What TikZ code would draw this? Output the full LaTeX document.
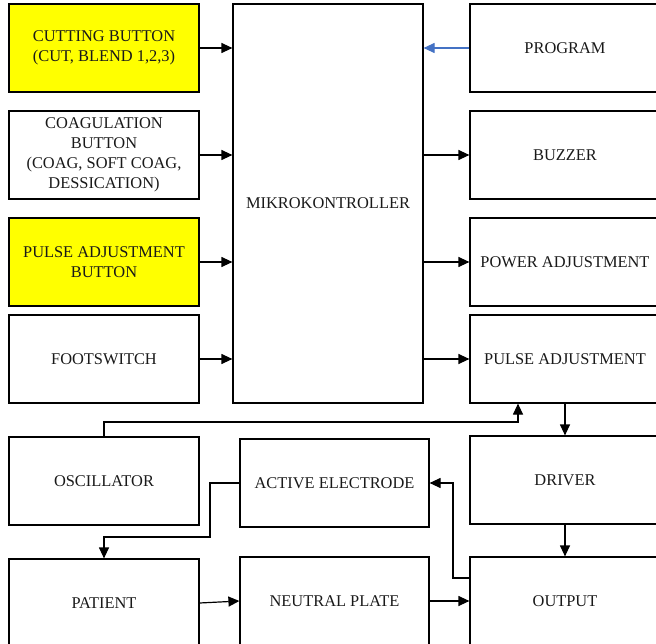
\documentclass[tikz,border=0pt]{standalone}
\usepackage{fontspec}
\setmainfont{Liberation Serif}
\usetikzlibrary{arrows.meta}
\definecolor{ylw}{RGB}{255,255,0}
\definecolor{bluearr}{RGB}{68,114,196}
\begin{document}
\begin{tikzpicture}[x=1pt,y=-1pt,
  box/.style={draw=black, line width=1.2pt, rectangle, inner sep=0pt, align=center,
    font=\fontsize{16.4}{20}\selectfont, text=black!90},
  lbox/.style={box, minimum width=190pt, minimum height=88pt},
  ybox/.style={lbox, fill=ylw},
  arr/.style={draw=black, line width=1.2pt, -{Triangle[length=11pt,width=10pt]}},
  barr/.style={draw=bluearr, line width=1.2pt, -{Triangle[length=11pt,width=10pt]}}]
\useasboundingbox (0,0) rectangle (656,644);
\clip (0,0) rectangle (656,644);
% left column
\node[ybox] (cut) at (104,48) {CUTTING BUTTON\\(CUT, BLEND 1,2,3)};
\node[lbox] (coag) at (104,155) {COAGULATION\\BUTTON\\(COAG, SOFT COAG,\\DESSICATION)};
\node[ybox] (pbtn) at (104,262) {PULSE ADJUSTMENT\\BUTTON};
\node[lbox] (foot) at (104,359) {FOOTSWITCH};
% microcontroller
\node[box, minimum width=190pt, minimum height=399pt] (mikro) at (328,203.5) {MIKROKONTROLLER};
% right column
\node[lbox] (prog) at (565,48) {PROGRAM};
\node[lbox] (buzz) at (565,155) {BUZZER};
\node[lbox] (power) at (565,262) {POWER ADJUSTMENT};
\node[lbox] (padj) at (565,359) {PULSE ADJUSTMENT};
% bottom rows
\node[lbox] (osc) at (104,481) {OSCILLATOR};
\node[box, minimum width=189pt, minimum height=88pt] (active) at (334.5,483) {ACTIVE ELECTRODE};
\node[lbox] (driver) at (565,480) {DRIVER};
\node[lbox] (patient) at (104,603) {PATIENT};
\node[box, minimum width=189pt, minimum height=88pt] (neutral) at (334.5,601) {NEUTRAL PLATE};
\node[lbox] (output) at (565,601) {OUTPUT};
% inputs to microcontroller
\draw[arr] (cut.east) -- (cut.east -| mikro.west);
\draw[arr] (coag.east) -- (coag.east -| mikro.west);
\draw[arr] (pbtn.east) -- (pbtn.east -| mikro.west);
\draw[arr] (foot.east) -- (foot.east -| mikro.west);
\draw[barr] (prog.west) -- (prog.west -| mikro.east);
% outputs of microcontroller
\draw[arr] (mikro.east |- buzz.west) -- (buzz.west);
\draw[arr] (mikro.east |- power.west) -- (power.west);
\draw[arr] (mikro.east |- padj.west) -- (padj.west);
% oscillator to pulse adjustment
\coordinate (oscturn) at (518,422);
\draw[arr] (osc.north) |- (oscturn) -- (oscturn |- padj.south);
% chain
\draw[arr] (padj.south) -- (driver.north);
\draw[arr] (driver.south) -- (output.north);
% output to active electrode
\coordinate (oa) at (453,578);
\draw[arr] (output.west |- oa) -- (oa) |- (active.east);
% active electrode to patient
\coordinate (ap) at (210,537);
\draw[arr] (active.west) -| (ap) -| (patient.north);
% patient to neutral plate to output
\draw[arr] (patient.east) -- (neutral.west);
\draw[arr] (neutral.east) -- (output.west |- neutral.east);
\end{tikzpicture}
\end{document}
